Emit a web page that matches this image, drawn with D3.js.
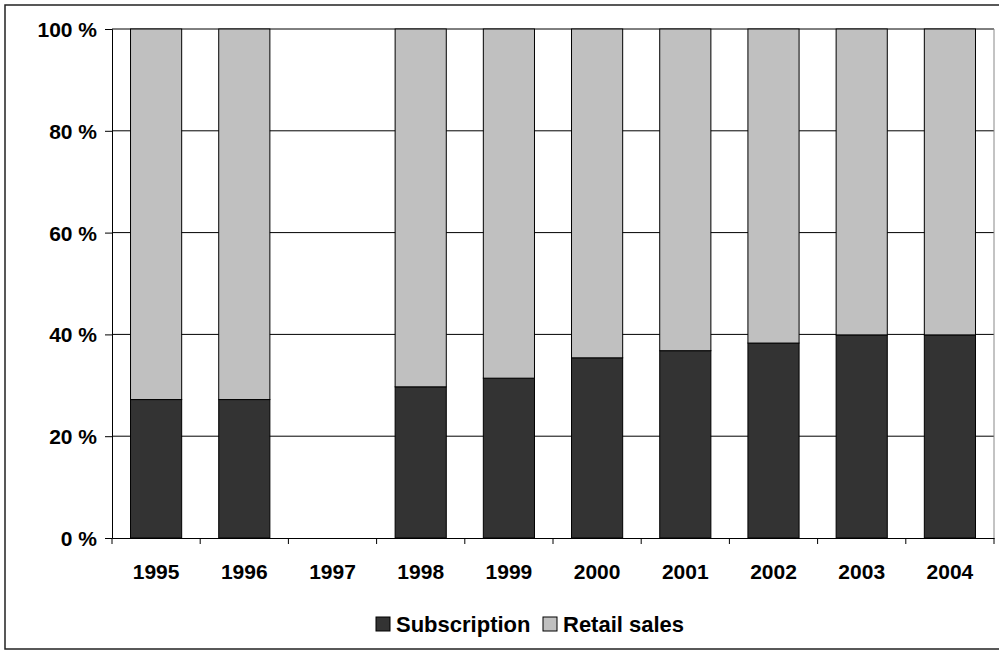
<!DOCTYPE html>
<html><head><meta charset="utf-8">
<script src="https://cdn.jsdelivr.net/npm/d3@7"></script>
<style>body{margin:0;background:#fff}svg{display:block}text{font-family:"Liberation Sans",Arial,sans-serif;font-weight:bold;fill:#000}</style>
</head><body>
<script>
const years = ["1995","1996","1997","1998","1999","2000","2001","2002","2003","2004"];
const subscription = [27.2,27.2,null,29.7,31.4,35.4,36.8,38.3,39.9,39.9];
const retail = [72.8,72.8,null,70.3,68.6,64.6,63.2,61.7,60.1,60.1];
const yTicks = [0,20,40,60,80,100];
const seriesNames = ["Subscription","Retail sales"];
const colors = ["#333333","#c0c0c0"];

const W=999,H=650;
const svg=d3.select("body").append("svg").attr("width",W).attr("height",H);
svg.append("rect").attr("x",5).attr("y",5).attr("width",1000).attr("height",644)
  .attr("fill","none").attr("stroke","#222").attr("stroke-width",1.5);

const L=112,R=994,T=29,B=538;
const x=d3.scaleBand().domain(years).range([L,R]).paddingInner(0.42).paddingOuter(0.21);
const y=d3.scaleLinear().domain([0,100]).range([B,T]);

// gridlines
svg.append("g").selectAll("line").data(yTicks.filter(d=>d>0)).join("line")
  .attr("x1",L).attr("x2",R).attr("y1",d=>y(d)).attr("y2",d=>y(d))
  .attr("stroke","#000").attr("stroke-width",1);
// right border of plot
svg.append("line").attr("x1",R).attr("x2",R).attr("y1",T).attr("y2",B).attr("stroke","#888").attr("stroke-width",1);

// bars
const data=years.map((yr,i)=>({yr,s:subscription[i],r:retail[i]})).filter(d=>d.s!=null);
const g=svg.append("g");
g.selectAll("rect.s").data(data).join("rect").attr("class","s")
  .attr("x",d=>x(d.yr)).attr("width",x.bandwidth())
  .attr("y",d=>y(d.s)).attr("height",d=>y(0)-y(d.s))
  .attr("fill",colors[0]).attr("stroke","#000").attr("stroke-width",1);
g.selectAll("rect.r").data(data).join("rect").attr("class","r")
  .attr("x",d=>x(d.yr)).attr("width",x.bandwidth())
  .attr("y",d=>y(d.s+d.r)).attr("height",d=>y(d.s)-y(d.s+d.r))
  .attr("fill",colors[1]).attr("stroke","#000").attr("stroke-width",1);

// y axis
const ya=svg.append("g").attr("transform",`translate(${L},0)`)
  .call(d3.axisLeft(y).tickValues(yTicks).tickSize(7).tickFormat(d=>d+" %"));
ya.select(".domain").attr("stroke","#000");
ya.selectAll("line").attr("stroke","#000");
ya.selectAll("text").attr("font-size",21).attr("x",-15).attr("dy","0.36em")
  .style("font-family","Liberation Sans, Arial, sans-serif").style("font-weight","bold");

// x axis
const xa=svg.append("g").attr("transform",`translate(0,${B})`)
  .call(d3.axisBottom(x).tickSize(0).tickSizeOuter(0));
xa.select(".domain").attr("stroke","#000");
xa.selectAll("text").attr("font-size",21).attr("y",41).attr("dy",0)
  .style("font-family","Liberation Sans, Arial, sans-serif").style("font-weight","bold");
// category boundary ticks
const bounds=years.map((d,i)=>L+i*x.step()).concat([R]);
svg.append("g").selectAll("line").data(bounds).join("line")
  .attr("x1",d=>d).attr("x2",d=>d).attr("y1",B).attr("y2",B+6).attr("stroke","#000");

// legend
const lg=svg.append("g");
const lx=[376,543];
seriesNames.forEach((n,i)=>{
  lg.append("rect").attr("x",lx[i]).attr("y",617).attr("width",14).attr("height",14)
    .attr("fill",colors[i]).attr("stroke","#000").attr("stroke-width",1);
  lg.append("text").attr("x",lx[i]+20).attr("y",632).attr("font-size",22).text(n);
});
</script>
</body></html>
